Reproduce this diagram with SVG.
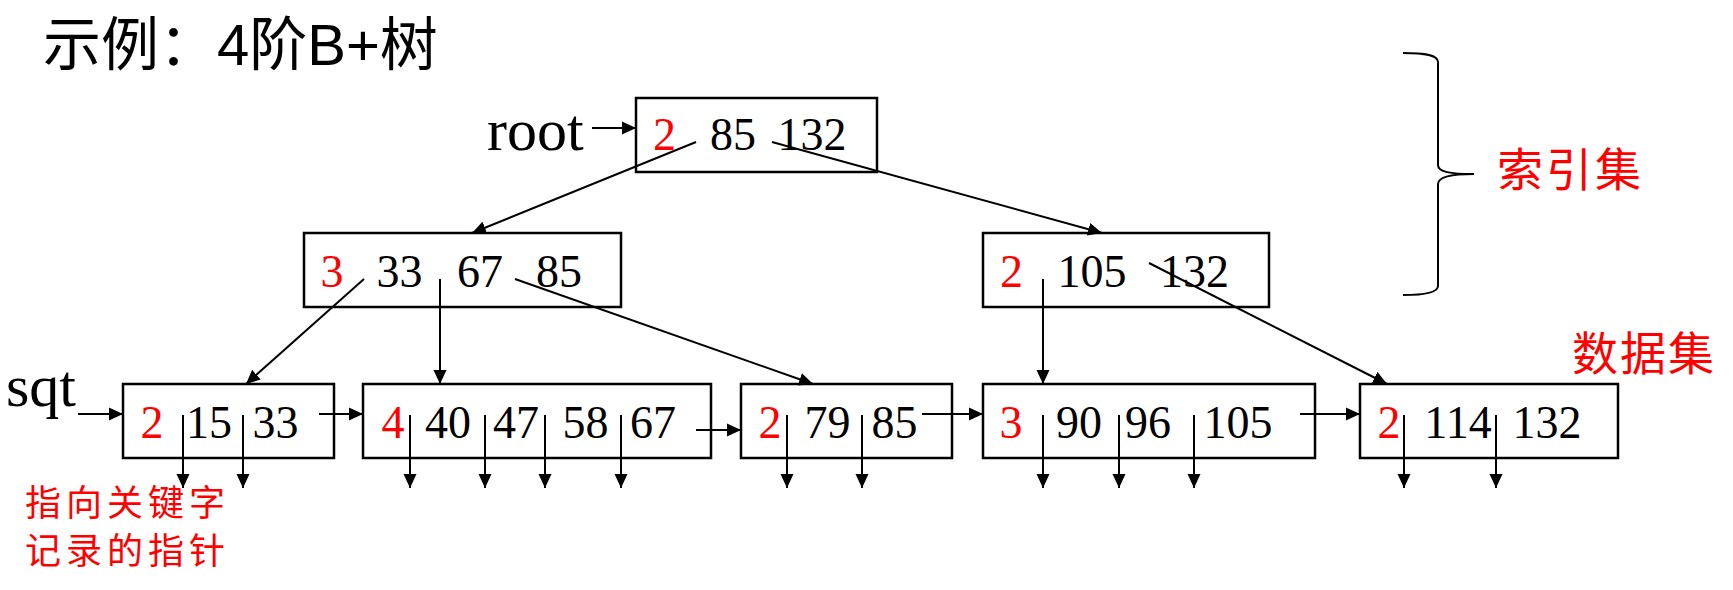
<svg xmlns="http://www.w3.org/2000/svg" width="1733" height="590" viewBox="0 0 1733 590">
<style>
.box{fill:#fff;stroke:#000;stroke-width:2.5}
.num{font-family:"Liberation Serif","Times New Roman",serif;font-size:46px;fill:#000;text-anchor:middle}
.cnt{fill:#f00}
.lbl{font-family:"Liberation Serif","Times New Roman",serif;font-size:60px;fill:#000}
.cjk{font-family:"Noto Sans CJK SC",sans-serif;fill:#f00}
.ln{stroke:#000;stroke-width:2;fill:none}
.arr{marker-end:url(#ah)}
</style>
<defs>
<marker id="ah" markerUnits="userSpaceOnUse" markerWidth="15" markerHeight="14" viewBox="0 0 15 14" refX="14" refY="7" orient="auto">
<path d="M0,0.5 L14,7 L0,13.5 z" fill="#000"/>
</marker>
</defs>
<rect width="1733" height="590" fill="#fff"/>
<text x="43" y="65" font-family="Liberation Sans,Noto Sans CJK SC,sans-serif" font-size="58" fill="#000">示例：4阶B+树</text>

<g id="root">
<rect class="box" x="636" y="98" width="241" height="74"/>
<text class="num cnt" x="664.5" y="150">2</text>
<text class="num" x="733" y="150">85</text>
<text class="num" x="812" y="150">132</text>
</g>
<g id="idx-left">
<rect class="box" x="304" y="233" width="317" height="74"/>
<text class="num cnt" x="332" y="287">3</text>
<text class="num" x="399.5" y="287">33</text>
<text class="num" x="480" y="287">67</text>
<text class="num" x="559" y="287">85</text>
</g>
<g id="idx-right">
<rect class="box" x="983" y="233" width="286" height="74"/>
<text class="num cnt" x="1011.5" y="287">2</text>
<text class="num" x="1092" y="287">105</text>
<text class="num" x="1194.5" y="287">132</text>
</g>
<g id="leaf1">
<rect class="box" x="123" y="384" width="211" height="74"/>
<text class="num cnt" x="152" y="438">2</text>
<text class="num" x="209" y="438">15</text>
<text class="num" x="275.5" y="438">33</text>
</g>
<g id="leaf2">
<rect class="box" x="363" y="384" width="348" height="74"/>
<text class="num cnt" x="393" y="438">4</text>
<text class="num" x="448" y="438">40</text>
<text class="num" x="516" y="438">47</text>
<text class="num" x="585.5" y="438">58</text>
<text class="num" x="653" y="438">67</text>
</g>
<g id="leaf3">
<rect class="box" x="741" y="384" width="211" height="74"/>
<text class="num cnt" x="770" y="438">2</text>
<text class="num" x="827.5" y="438">79</text>
<text class="num" x="894.5" y="438">85</text>
</g>
<g id="leaf4">
<rect class="box" x="983" y="384" width="332" height="74"/>
<text class="num cnt" x="1011" y="438">3</text>
<text class="num" x="1079" y="438">90</text>
<text class="num" x="1148" y="438">96</text>
<text class="num" x="1238" y="438">105</text>
</g>
<g id="leaf5">
<rect class="box" x="1360" y="384" width="258" height="74"/>
<text class="num cnt" x="1389" y="438">2</text>
<text class="num" x="1458" y="438">114</text>
<text class="num" x="1547" y="438">132</text>
</g>

<g id="label-root"><text class="lbl" x="487" y="150">root</text></g>
<g id="label-sqt"><text class="lbl" x="6" y="406">sqt</text></g>
<g id="label-index"><text class="cjk" x="1497" y="186" font-size="46" letter-spacing="3">索引集</text></g>
<g id="label-data"><text class="cjk" x="1572" y="370" font-size="46" letter-spacing="2">数据集</text></g>
<g id="label-ptr">
<text class="cjk" x="25" y="516" font-size="36" letter-spacing="5">指向关键字</text>
<text class="cjk" x="25" y="564" font-size="36" letter-spacing="5">记录的指针</text>
</g>
<g id="brace">
<path class="ln" d="M1403,53 C1426,53 1438,55 1438,62 L1438,165 C1438,172 1450,174 1474,174 C1450,174 1438,177 1438,184 L1438,286 C1438,292 1426,295 1403,295"/>
</g>

<g id="connectors">
<line class="ln arr" x1="592" y1="128" x2="636" y2="128"/>
<line class="ln arr" x1="78" y1="414" x2="123" y2="414"/>
<line class="ln arr" x1="696" y1="142" x2="472" y2="233"/>
<line class="ln arr" x1="772" y1="142" x2="1102" y2="233"/>
<line class="ln arr" x1="364" y1="279" x2="246" y2="384"/>
<line class="ln arr" x1="440" y1="279" x2="440" y2="384"/>
<line class="ln arr" x1="515" y1="279" x2="813" y2="384"/>
<line class="ln arr" x1="1043" y1="279" x2="1043" y2="384"/>
<line class="ln arr" x1="1149" y1="263" x2="1387" y2="384"/>
<line class="ln arr" x1="319" y1="414" x2="363" y2="414"/>
<line class="ln arr" x1="696" y1="430" x2="741" y2="430"/>
<line class="ln arr" x1="922" y1="414" x2="983" y2="414"/>
<line class="ln arr" x1="1300" y1="414" x2="1360" y2="414"/>
<line class="ln arr" x1="183" y1="415" x2="183" y2="488"/>
<line class="ln arr" x1="243" y1="415" x2="243" y2="488"/>
<line class="ln arr" x1="410" y1="415" x2="410" y2="488"/>
<line class="ln arr" x1="485" y1="415" x2="485" y2="488"/>
<line class="ln arr" x1="545" y1="415" x2="545" y2="488"/>
<line class="ln arr" x1="621" y1="415" x2="621" y2="488"/>
<line class="ln arr" x1="787" y1="415" x2="787" y2="488"/>
<line class="ln arr" x1="862" y1="415" x2="862" y2="488"/>
<line class="ln arr" x1="1043" y1="415" x2="1043" y2="488"/>
<line class="ln arr" x1="1119" y1="415" x2="1119" y2="488"/>
<line class="ln arr" x1="1194" y1="415" x2="1194" y2="488"/>
<line class="ln arr" x1="1404" y1="415" x2="1404" y2="488"/>
<line class="ln arr" x1="1496" y1="415" x2="1496" y2="488"/>
</g>
</svg>
